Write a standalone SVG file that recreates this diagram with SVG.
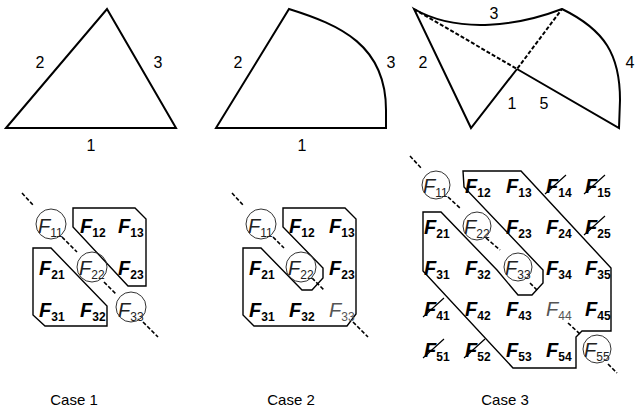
<svg xmlns="http://www.w3.org/2000/svg" width="638" height="417" viewBox="0 0 638 417">
<style>
.edge{fill:none;stroke:#000;stroke-width:2;stroke-linejoin:miter}
.dash{fill:none;stroke:#000;stroke-width:1.6;stroke-dasharray:4 2}
.lbl{font-family:"Liberation Sans",Arial,sans-serif;font-size:16px;fill:#000;text-anchor:middle}
.case{font-family:"Liberation Sans",Arial,sans-serif;font-size:15px;fill:#000;text-anchor:middle}
.poly{fill:none;stroke:#000;stroke-width:1.4}
.F{font-family:"Liberation Sans",Arial,sans-serif;font-size:20px;font-weight:bold;font-style:italic;fill:#000}
.sub{font-size:12px;font-style:normal}
.Fc{font-family:"Liberation Sans",Arial,sans-serif;font-size:20px;font-style:italic;fill:#222}
.Fg{font-family:"Liberation Sans",Arial,sans-serif;font-size:20px;font-style:italic;fill:#555}
.circ{fill:none;stroke:#333;stroke-width:1}
.x{stroke:#000;stroke-width:1.2}
.dl{fill:none;stroke:#000;stroke-width:2;stroke-dasharray:4 2}
</style>

<g id="shape1">
<polygon class="edge" points="6,128 107,9 176,128"/>
<text class="lbl" x="40" y="68">2</text>
<text class="lbl" x="158" y="68">3</text>
<text class="lbl" x="91" y="151">1</text>
</g>

<g id="shape2">
<path class="edge" d="M216,128 L289,9 C340,25 386,45 386,110 L386,128 Z"/>
<text class="lbl" x="238" y="68">2</text>
<text class="lbl" x="391" y="68">3</text>
<text class="lbl" x="302" y="151">1</text>
</g>

<g id="shape3">
<path class="edge" d="M517,69 L471,128 L414,9 C460,35 520,25 562,9 C605,30 620,55 620,100 L619,128 L517,69"/>
<path class="dl" d="M414,9 L517,69 L562,9"/>
<text class="lbl" x="494" y="19">3</text>
<text class="lbl" x="423" y="68">2</text>
<text class="lbl" x="630" y="68">4</text>
<text class="lbl" x="512" y="109">1</text>
<text class="lbl" x="544" y="109">5</text>
</g>

<g id="matrix1">
<polygon class="poly" points="73,208 135,208 146,219 146,286 128,286 73,227"/>
<polygon class="poly" points="33,248 51,248 107,306 107,326 45,326 33,315"/>
<circle class="circ" cx="51" cy="224" r="15"/>
<circle class="circ" cx="92" cy="267" r="15"/>
<circle class="circ" cx="131" cy="307" r="15"/>
<path class="dash" d="M22,193 L33,205 M62,237 L77,252 M104,282 L116,294 M143,322 L158,337"/>
<text class="Fc" x="38" y="233">F<tspan class="sub" dy="4">11</tspan></text>
<text class="F" x="80" y="233">F<tspan class="sub" dy="4">12</tspan></text>
<text class="F" x="118" y="233">F<tspan class="sub" dy="4">13</tspan></text>
<text class="F" x="39" y="275">F<tspan class="sub" dy="4">21</tspan></text>
<text class="Fc" x="79" y="275">F<tspan class="sub" dy="4">22</tspan></text>
<text class="F" x="118" y="275">F<tspan class="sub" dy="4">23</tspan></text>
<text class="F" x="39" y="317">F<tspan class="sub" dy="4">31</tspan></text>
<text class="F" x="80" y="317">F<tspan class="sub" dy="4">32</tspan></text>
<text class="Fc" x="118" y="317">F<tspan class="sub" dy="4">33</tspan></text>
</g>

<g id="matrix2">
<polygon class="poly" points="283,208 345,208 356,219 356,314 347,326 254,326 243,315 243,248 261,248 302,290 312,290 323,278 323,268 283,227"/>
<circle class="circ" cx="261" cy="224" r="15"/>
<circle class="circ" cx="301" cy="267" r="15"/>
<path class="dash" d="M232,193 L243,205 M273,237 L284,248 M312,278 L324,290 M353,322 L368,337"/>
<text class="Fc" x="248" y="233">F<tspan class="sub" dy="4">11</tspan></text>
<text class="F" x="289" y="233">F<tspan class="sub" dy="4">12</tspan></text>
<text class="F" x="329" y="233">F<tspan class="sub" dy="4">13</tspan></text>
<text class="F" x="249" y="275">F<tspan class="sub" dy="4">21</tspan></text>
<text class="Fc" x="288" y="275">F<tspan class="sub" dy="4">22</tspan></text>
<text class="F" x="329" y="275">F<tspan class="sub" dy="4">23</tspan></text>
<text class="F" x="249" y="317">F<tspan class="sub" dy="4">31</tspan></text>
<text class="F" x="289" y="317">F<tspan class="sub" dy="4">32</tspan></text>
<text class="Fg" x="329" y="317">F<tspan class="sub" dy="4">33</tspan></text>
</g>

<g id="matrix3">
<polygon class="poly" points="463,171 521,171 611,268 611,331 582,331 576,337 576,368 513,368 423,271 423,212 441,212 497,270 518,295 532,295 543,283 543,270 464,187"/>
<circle class="circ" cx="436" cy="185" r="14"/>
<circle class="circ" cx="477" cy="226" r="14"/>
<circle class="circ" cx="518" cy="267" r="14"/>
<circle class="circ" cx="597" cy="349" r="14"/>
<path class="dash" d="M410,156 L422,169 M448,197 L460,208 M486,238 L500,250 M530,283 L538,291 M568,323 L580,334 M608,364 L617,373"/>
<text class="Fc" x="423" y="193">F<tspan class="sub" dy="4">11</tspan></text>
<text class="F" x="465" y="193">F<tspan class="sub" dy="4">12</tspan></text>
<text class="F" x="506" y="193">F<tspan class="sub" dy="4">13</tspan></text>
<text class="F" x="546" y="193">F<tspan class="sub" dy="4">14</tspan></text>
<text class="F" x="585" y="193">F<tspan class="sub" dy="4">15</tspan></text>
<text class="F" x="424" y="234">F<tspan class="sub" dy="4">21</tspan></text>
<text class="Fc" x="464" y="234">F<tspan class="sub" dy="4">22</tspan></text>
<text class="F" x="506" y="234">F<tspan class="sub" dy="4">23</tspan></text>
<text class="F" x="546" y="234">F<tspan class="sub" dy="4">24</tspan></text>
<text class="F" x="585" y="234">F<tspan class="sub" dy="4">25</tspan></text>
<text class="F" x="424" y="275">F<tspan class="sub" dy="4">31</tspan></text>
<text class="F" x="465" y="275">F<tspan class="sub" dy="4">32</tspan></text>
<text class="Fc" x="505" y="275">F<tspan class="sub" dy="4">33</tspan></text>
<text class="F" x="546" y="275">F<tspan class="sub" dy="4">34</tspan></text>
<text class="F" x="585" y="275">F<tspan class="sub" dy="4">35</tspan></text>
<text class="F" x="424" y="316">F<tspan class="sub" dy="4">41</tspan></text>
<text class="F" x="465" y="316">F<tspan class="sub" dy="4">42</tspan></text>
<text class="F" x="506" y="316">F<tspan class="sub" dy="4">43</tspan></text>
<text class="Fg" x="546" y="316">F<tspan class="sub" dy="4">44</tspan></text>
<text class="F" x="585" y="316">F<tspan class="sub" dy="4">45</tspan></text>
<text class="F" x="424" y="357">F<tspan class="sub" dy="4">51</tspan></text>
<text class="F" x="465" y="357">F<tspan class="sub" dy="4">52</tspan></text>
<text class="F" x="506" y="357">F<tspan class="sub" dy="4">53</tspan></text>
<text class="F" x="546" y="357">F<tspan class="sub" dy="4">54</tspan></text>
<text class="Fc" x="584" y="357">F<tspan class="sub" dy="4">55</tspan></text>
<path class="x" d="M545,194 L566,175 M584,194 L605,175 M584,235 L605,216 M423,317 L444,298 M423,358 L444,339 M464,358 L485,339"/>
</g>

<g id="captions">
<text class="case" x="74" y="405">Case 1</text>
<text class="case" x="291" y="405">Case 2</text>
<text class="case" x="505" y="405">Case 3</text>
</g>
</svg>
